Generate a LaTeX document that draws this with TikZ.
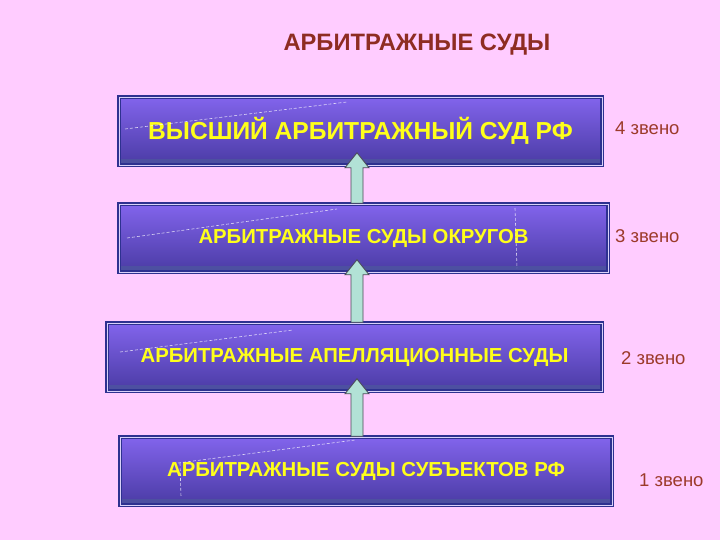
\documentclass[tikz,border=0pt]{standalone}
\usepackage{fontspec}
\setmainfont{Liberation Sans}
\usepackage{tikz}
\usetikzlibrary{calc,positioning}
\definecolor{pinkbg}{HTML}{FFCCFF}
\definecolor{boxedge}{HTML}{2E3190}
\definecolor{boxtop}{HTML}{8264EC}
\definecolor{boxbot}{HTML}{4A3BA4}
\definecolor{court}{HTML}{FFFF1A}
\definecolor{linkred}{HTML}{9C3A2A}
\definecolor{titlered}{HTML}{8E2C22}
\definecolor{arrowfill}{HTML}{B2E2D6}
\definecolor{arrowline}{HTML}{4A4A55}

\begin{document}
\begin{tikzpicture}[x=1pt,y=-1pt,
    courtbox/.style={draw=boxedge,line width=1.5pt,double=white!70!boxtop,double distance=0.8pt,
      top color=boxtop,bottom color=boxbot,minimum height=68pt,inner sep=0pt,
      text=court,font=\bfseries\fontsize{20.3}{23}\selectfont,
      path picture={\fill[boxedge!85] (path picture bounding box.south west)
        rectangle ([yshift=6pt]path picture bounding box.south east);}},
    uparrow/.style={draw=arrowline,fill=arrowfill,line width=0.8pt,line join=miter},
    streak/.style={white,opacity=0.75,line width=0.6pt,dash pattern=on 3pt off 2pt},
    level/.style={text=linkred,font=\fontsize{18.5}{21}\selectfont,anchor=west,inner sep=0pt}]
  \fill[pinkbg] (0,0) rectangle (720,540);
  \useasboundingbox (0,0) rectangle (720,540);

  \node[text=titlered,font=\bfseries\fontsize{23.7}{26}\selectfont] (title) at (417,45) {АРБИТРАЖНЫЕ СУДЫ};

  \node[courtbox,minimum width=483pt,font=\bfseries\fontsize{24.6}{27}\selectfont] (b1) at (360.5,131) {ВЫСШИЙ АРБИТРАЖНЫЙ СУД РФ};
  \node[courtbox,minimum width=489pt] (b2) at (363.5,238) {АРБИТРАЖНЫЕ СУДЫ ОКРУГОВ};
  \node[courtbox,minimum width=495pt] (b3) at (354.5,357) {АРБИТРАЖНЫЕ АПЕЛЛЯЦИОННЫЕ СУДЫ};
  \node[courtbox,minimum width=492pt] (b4) at (366,471) {АРБИТРАЖНЫЕ СУДЫ СУБЪЕКТОВ РФ};

  % light streaks on the boxes
  \draw[streak] (125,129) -- (347,102);
  \draw[streak] (127,238) -- (337,209);
  \draw[streak] (515,208) -- (517,268);
  \draw[streak] (120,352) -- (293,330);
  \draw[streak] (178,463) -- (355,440);
  \draw[streak] (180,463) -- (181,497);

  \coordinate (ax) at (357,0);
  \foreach \lo/\hi in {b2/b1,b3/b2,b4/b3}
    \draw[uparrow] let \p1=(\lo.north -| ax), \p2=(\hi.south -| ax) in
      (\x1-6pt,\y1) -- (\x1-6pt,\y2-2pt) -- (\x1-12pt,\y2-2pt) -- (\x1,\y2+13pt)
      -- (\x1+12pt,\y2-2pt) -- (\x1+6pt,\y2-2pt) -- (\x1+6pt,\y1) -- cycle;

  \foreach \x/\y/\nm/\lab in {615/128/l4/4,615/236/l3/3,621/358/l2/2,639/480/l1/1}
    \node[level] (\nm) at (\x,\y) {\lab\ звено};
\end{tikzpicture}
\end{document}
